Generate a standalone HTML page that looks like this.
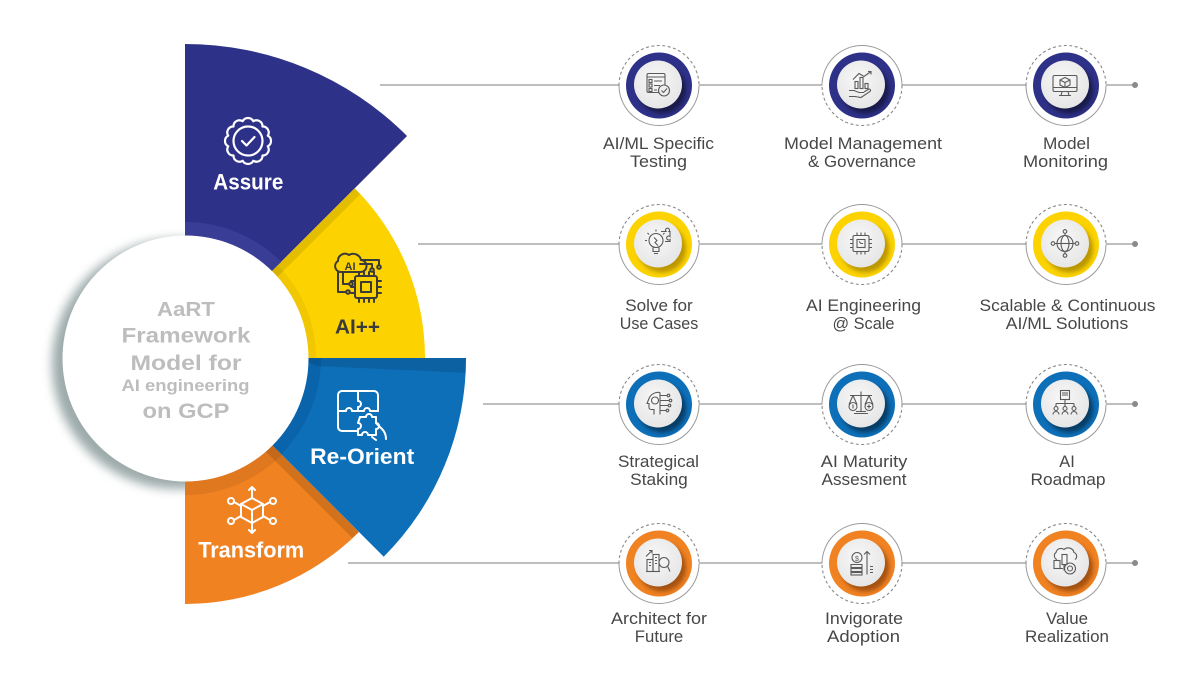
<!DOCTYPE html>
<html><head><meta charset="utf-8"><style>
html,body{margin:0;padding:0;background:#fff;}
svg{display:block;}
text{font-family:"Liberation Sans",Arial,sans-serif;}
</style></head><body>
<svg width="1200" height="690" viewBox="0 0 1200 690" xmlns="http://www.w3.org/2000/svg">
<defs>
  <filter id="blur5" x="-30%" y="-30%" width="160%" height="160%"><feGaussianBlur stdDeviation="5"/></filter>
  <filter id="blur2" x="-40%" y="-40%" width="180%" height="180%"><feGaussianBlur stdDeviation="2.2"/></filter>
  <radialGradient id="ig" cx="45%" cy="40%" r="60%"><stop offset="0" stop-color="#f8f8f8"/><stop offset="1" stop-color="#e6e6e6"/></radialGradient>
  <clipPath id="cY"><path d="M185,358 L354.71,188.29 A240,240 0 0 1 425,358 Z"/></clipPath>
  <clipPath id="cB"><path d="M185,358 L466,358 A281,281 0 0 1 383.7,556.7 Z"/></clipPath>
  <clipPath id="cO"><path d="M185,358 L358.95,531.95 A246,246 0 0 1 185,604 Z"/></clipPath>
</defs>

<!-- circle shadow -->
<circle cx="177" cy="364" r="125" fill="#8c9c9c" opacity="0.85" filter="url(#blur5)"/>

<!-- sectors -->
<path d="M185,358 L185,44 A314,314 0 0 1 407.03,135.97 Z" fill="#2e3188"/>
<path d="M185,358 L354.71,188.29 A240,240 0 0 1 425,358 Z" fill="#fcd300"/>
<path d="M185,358 L358.95,531.95 A246,246 0 0 1 185,604 Z" fill="#f08222"/>
<path d="M185,358 L466,358 A281,281 0 0 1 383.7,556.7 Z" fill="#0d6fb8"/>

<!-- inner bands -->
<path d="M185,358 L185,222 A136,136 0 0 1 281.17,261.83 Z" fill="#3a3d95"/>
<path d="M185,358 L277.63,265.37 A131,131 0 0 1 316,358 Z" fill="#f0c700"/>
<path d="M185,358 L321,358 A136,136 0 0 1 281.17,454.17 Z" fill="#0a64ac"/>
<path d="M185,358 L281.87,454.87 A137,137 0 0 1 185,495 Z" fill="#e07820"/>

<!-- boundary shadow strips -->
<g clip-path="url(#cY)"><polygon points="269.85,273.15 358.24,184.76 363.9,190.4 275.5,278.8" fill="#000" opacity="0.1"/></g>
<g clip-path="url(#cB)"><polygon points="300,358 470,358 470,373 316,366" fill="#000" opacity="0.12"/></g>
<g clip-path="url(#cO)"><polygon points="269.85,442.85 361.78,534.78 355.4,541.1 263.5,449.2" fill="#000" opacity="0.12"/></g>

<!-- white center circle -->
<circle cx="185.5" cy="358.5" r="123" fill="#fff"/>
<g fill="#bdbdbd" font-weight="bold" text-anchor="middle">
  <text x="186" y="316" font-size="20" textLength="58" lengthAdjust="spacingAndGlyphs">AaRT</text>
  <text x="186" y="342.5" font-size="21" textLength="129" lengthAdjust="spacingAndGlyphs">Framework</text>
  <text x="186" y="370" font-size="21" textLength="111" lengthAdjust="spacingAndGlyphs">Model for</text>
  <text x="185.5" y="391" font-size="17" textLength="128" lengthAdjust="spacingAndGlyphs">AI engineering</text>
  <text x="186" y="418" font-size="21" textLength="87" lengthAdjust="spacingAndGlyphs">on GCP</text>
</g>

<!-- Assure icon + label -->
<g transform="translate(248,141)" fill="none" stroke="#fff" stroke-width="2.2" stroke-linejoin="round" stroke-linecap="round">
  <path d="M19.8,5.31 A6,6 0 0 1 14.5,14.5 A6,6 0 0 1 5.31,19.8 A6,6 0 0 1 -5.31,19.8 A6,6 0 0 1 -14.5,14.5 A6,6 0 0 1 -19.8,5.31 A6,6 0 0 1 -19.8,-5.31 A6,6 0 0 1 -14.5,-14.5 A6,6 0 0 1 -5.31,-19.8 A6,6 0 0 1 5.31,-19.8 A6,6 0 0 1 14.5,-14.5 A6,6 0 0 1 19.8,-5.31 A6,6 0 0 1 19.8,5.31 Z"/>
  <circle r="14.5"/>
  <path d="M-6,0 L-1.5,4.5 L6.5,-4"/>
</g>
<text x="248.3" y="189.3" font-size="22" font-weight="bold" fill="#fff" text-anchor="middle" textLength="70" lengthAdjust="spacingAndGlyphs">Assure</text>

<!-- AI++ icon + label -->
<g transform="translate(358,278)" fill="none" stroke="#3a3a3a" stroke-width="2" stroke-linejoin="round" stroke-linecap="round">
  <path d="M-18,-6 A6,6 0 0 1 -20,-17 A7,7 0 0 1 -9,-23 A8,8 0 0 1 3,-18 A6,6 0 0 1 2,-6 Z"/>
  <rect x="-3" y="-2" width="22" height="22" rx="2"/>
  <rect x="3" y="4" width="10" height="10"/>
  <path d="M1,-2 v-4 M6,-2 v-4 M11,-2 v-4 M16,-2 v-4 M1,20 v4 M6,20 v4 M11,20 v4 M16,20 v4 M-3,3 h-4 M-3,9 h-4 M-3,15 h-4 M19,3 h4 M19,9 h4 M19,15 h4"/>
  <path d="M-20,-6 V14 H-12 M-15,-6 V6 H-9 M2,-14 H14 V-10 M3,-18 H21 V-13"/>
  <circle cx="-10" cy="14" r="1.8"/><circle cx="-7" cy="6" r="1.8"/><circle cx="14" cy="-8" r="1.8"/><circle cx="21" cy="-11" r="1.8"/>
</g>
<text x="350" y="-8" font-size="11" font-weight="bold" fill="#3a3a3a" text-anchor="middle" transform="translate(0,278)">AI</text>
<text x="357.5" y="333.3" font-size="20" font-weight="bold" fill="#3a3a3a" text-anchor="middle" textLength="45" lengthAdjust="spacingAndGlyphs">AI++</text>

<!-- Re-Orient icon + label -->
<g transform="translate(362,415)" fill="none" stroke="#fff" stroke-width="2" stroke-linejoin="round" stroke-linecap="round">
  <path d="M-4,16 H-20 A4,4 0 0 1 -24,12 V-20 A4,4 0 0 1 -20,-24 H12 A4,4 0 0 1 16,-20 V-4"/>
  <path d="M-4,-24 V-14 A3,3 0 1 1 -4,-8 V-4 H-10 A3,3 0 1 0 -16,-4 H-24"/>
  <path d="M-4,-4 H2 A3,3 0 1 1 8,-4 H16"/>
  <path d="M-2,2 H4 A3,3 0 1 1 10,2 H14 V8 A3,3 0 1 1 14,14 V20 H6 A3,3 0 1 0 0,20 H-4 V14 A3,3 0 1 0 -4,8 Z"/>
  <path d="M14,8 L20,14 Q24,18 24,24 M10,22 L14,25"/>
</g>
<text x="362.2" y="464" font-size="22" font-weight="bold" fill="#fff" text-anchor="middle" textLength="104" lengthAdjust="spacingAndGlyphs">Re-Orient</text>

<!-- Transform icon + label -->
<g transform="translate(252,510)" fill="none" stroke="#fff" stroke-width="2" stroke-linejoin="round" stroke-linecap="round">
  <path d="M0,-12 L11,-6 L0,0 L-11,-6 Z M-11,-6 V7 L0,13 L11,7 V-6 M0,0 V13"/>
  <path d="M0,-12 V-23 M-3,-20 L0,-23 L3,-20 M0,13 V23 M-3,20 L0,23 L3,20"/>
  <path d="M-11,-4 L-18,-8 M11,-4 L18,-8 M-11,6 L-18,10 M11,6 L18,10"/>
  <circle cx="-21" cy="-9" r="3"/><circle cx="21" cy="-9" r="3"/><circle cx="-21" cy="11" r="3"/><circle cx="21" cy="11" r="3"/>
</g>
<text x="251.2" y="557.3" font-size="22" font-weight="bold" fill="#fff" text-anchor="middle" textLength="106" lengthAdjust="spacingAndGlyphs">Transform</text>

<!-- connector lines -->
<g stroke="#a8a8a8" stroke-width="1.5">
  <line x1="380" y1="85" x2="1135" y2="85"/>
  <line x1="418" y1="244" x2="1135" y2="244"/>
  <line x1="483" y1="404" x2="1135" y2="404"/>
  <line x1="348" y1="563" x2="1135" y2="563"/>
</g>
<g fill="#8a8a8a">
  <circle cx="1135" cy="85" r="3"/><circle cx="1135" cy="244" r="3"/><circle cx="1135" cy="404" r="3"/><circle cx="1135" cy="563" r="3"/>
</g>

<!-- node template: columns 659, 862, 1066 -->
<!-- Row 1 navy -->
<g transform="translate(659,85.5)">
  <circle r="40" fill="#fff"/>
  <path d="M-40,0 A40,40 0 0 1 40,0" fill="none" stroke="#8a8a8a" stroke-width="1.1" stroke-dasharray="3 2.5"/>
  <path d="M40,0 A40,40 0 0 1 -40,0" fill="none" stroke="#9a9a9a" stroke-width="1"/>
  <circle r="33" fill="#2e3188"/>
  <circle cx="3" cy="4" r="24" fill="#000" opacity="0.45" filter="url(#blur2)"/>
  <circle cx="-1" cy="-1" r="24" fill="url(#ig)"/>
  <g transform="translate(-1,-1)" fill="none" stroke="#5a5a5a" stroke-width="1.1">
    <rect x="-11" y="-11" width="18" height="19" rx="1.5"/><line x1="-11" y1="-7.5" x2="7" y2="-7.5"/>
    <rect x="-9" y="-5" width="3" height="3"/><rect x="-9" y="-0.5" width="3" height="3"/><rect x="-9" y="4" width="3" height="3"/>
    <path d="M-4,-3.5 h8 M-4,1 h6 M-4,5.5 h3"/>
    <circle cx="6" cy="6" r="5.5" fill="#eee"/><path d="M3.5,6 l2,2 l3.5,-4"/>
  </g>
</g>
<g transform="translate(862,85.5)">
  <circle r="40" fill="#fff"/>
  <path d="M-40,0 A40,40 0 0 1 40,0" fill="none" stroke="#9a9a9a" stroke-width="1"/>
  <path d="M40,0 A40,40 0 0 1 -40,0" fill="none" stroke="#8a8a8a" stroke-width="1.1" stroke-dasharray="3 2.5"/>
  <circle r="33" fill="#2e3188"/>
  <circle cx="3" cy="4" r="24" fill="#000" opacity="0.45" filter="url(#blur2)"/>
  <circle cx="-1" cy="-1" r="24" fill="url(#ig)"/>
  <g transform="translate(-1,-1)" fill="none" stroke="#5a5a5a" stroke-width="1.1">
    <rect x="-6" y="-3" width="3" height="7"/><rect x="-1" y="-7" width="3" height="11"/><rect x="4" y="-1" width="3" height="5"/>
    <path d="M-8,-5 L-2,-11 L3,-8 L10,-13 M7,-13 h3 v3"/>
    <path d="M-12,6 h5 l5,2 h5 M-12,12 h6 l6,1 l9,-6 q1.5,-2 -1,-2.5 l-5,3"/>
  </g>
</g>
<g transform="translate(1066,85.5)">
  <circle r="40" fill="#fff"/>
  <path d="M-40,0 A40,40 0 0 1 40,0" fill="none" stroke="#8a8a8a" stroke-width="1.1" stroke-dasharray="3 2.5"/>
  <path d="M40,0 A40,40 0 0 1 -40,0" fill="none" stroke="#9a9a9a" stroke-width="1"/>
  <circle r="33" fill="#2e3188"/>
  <circle cx="3" cy="4" r="24" fill="#000" opacity="0.45" filter="url(#blur2)"/>
  <circle cx="-1" cy="-1" r="24" fill="url(#ig)"/>
  <g transform="translate(-1,-1)" fill="none" stroke="#5a5a5a" stroke-width="1.1">
    <rect x="-12" y="-9" width="24" height="16" rx="1.5"/><line x1="-12" y1="3" x2="12" y2="3"/>
    <path d="M-3,7 l-1,4 h8 l-1,-4 M-6,11 h12"/>
    <path d="M0,-7 l5,2.5 v5 l-5,2.5 l-5,-2.5 v-5 z M-5,-4.5 l5,2.5 l5,-2.5 M0,-2 v5"/>
  </g>
</g>

<!-- Row 2 yellow -->
<g transform="translate(659,244.5)">
  <circle r="40" fill="#fff"/>
  <path d="M-40,0 A40,40 0 0 1 40,0" fill="none" stroke="#8a8a8a" stroke-width="1.1" stroke-dasharray="3 2.5"/>
  <path d="M40,0 A40,40 0 0 1 -40,0" fill="none" stroke="#9a9a9a" stroke-width="1"/>
  <circle r="33" fill="#fcd300"/>
  <circle cx="3" cy="4" r="24" fill="#7a5a00" opacity="0.5" filter="url(#blur2)"/>
  <circle cx="-1" cy="-1" r="24" fill="url(#ig)"/>
  <g transform="translate(-1,-1)" fill="none" stroke="#5a5a5a" stroke-width="1.1">
    <circle cx="-2" cy="-3" r="7"/><path d="M-5,4 v4 h6 v-4 M-4,10 h4 M-4,-6 l3,3 l-2,2 l3,3"/>
    <path d="M-2,-12 v-2 M-9,-9 l-1.5,-1.5 M-11,-3 h-2 M5,-9 l1.5,-1.5"/>
    <path d="M3,-12 h5 a2,2 0 1 1 3,0 h1 v5 a2,2 0 1 0 0,3 v2 h-5"/>
  </g>
</g>
<g transform="translate(862,244.5)">
  <circle r="40" fill="#fff"/>
  <path d="M-40,0 A40,40 0 0 1 40,0" fill="none" stroke="#9a9a9a" stroke-width="1"/>
  <path d="M40,0 A40,40 0 0 1 -40,0" fill="none" stroke="#8a8a8a" stroke-width="1.1" stroke-dasharray="3 2.5"/>
  <circle r="33" fill="#fcd300"/>
  <circle cx="3" cy="4" r="24" fill="#7a5a00" opacity="0.5" filter="url(#blur2)"/>
  <circle cx="-1" cy="-1" r="24" fill="url(#ig)"/>
  <g transform="translate(-1,-1)" fill="none" stroke="#5a5a5a" stroke-width="1.1">
    <rect x="-8" y="-8" width="16" height="16" rx="1.5"/><rect x="-4" y="-4" width="8" height="8"/>
    <path d="M-4,-8 v-3 M0,-8 v-3 M4,-8 v-3 M-4,8 v3 M0,8 v3 M4,8 v3 M-8,-4 h-3 M-8,0 h-3 M-8,4 h-3 M8,-4 h3 M8,0 h3 M8,4 h3"/>
    <path d="M-2,-2 l2,2 h2"/>
  </g>
</g>
<g transform="translate(1066,244.5)">
  <circle r="40" fill="#fff"/>
  <path d="M-40,0 A40,40 0 0 1 40,0" fill="none" stroke="#8a8a8a" stroke-width="1.1" stroke-dasharray="3 2.5"/>
  <path d="M40,0 A40,40 0 0 1 -40,0" fill="none" stroke="#9a9a9a" stroke-width="1"/>
  <circle r="33" fill="#fcd300"/>
  <circle cx="3" cy="4" r="24" fill="#7a5a00" opacity="0.5" filter="url(#blur2)"/>
  <circle cx="-1" cy="-1" r="24" fill="url(#ig)"/>
  <g transform="translate(-1,-1)" fill="none" stroke="#5a5a5a" stroke-width="1.1">
    <circle r="8"/><ellipse rx="4" ry="8"/><line x1="-8" y1="0" x2="8" y2="0"/>
    <path d="M0,-8 v-2 M0,8 v2 M-8,0 h-2 M8,0 h2"/>
    <circle cx="0" cy="-12" r="1.8"/><circle cx="0" cy="12" r="1.8"/><circle cx="-12" cy="0" r="1.8"/><circle cx="12" cy="0" r="1.8"/>
  </g>
</g>

<!-- Row 3 blue -->
<g transform="translate(659,404.5)">
  <circle r="40" fill="#fff"/>
  <path d="M-40,0 A40,40 0 0 1 40,0" fill="none" stroke="#8a8a8a" stroke-width="1.1" stroke-dasharray="3 2.5"/>
  <path d="M40,0 A40,40 0 0 1 -40,0" fill="none" stroke="#9a9a9a" stroke-width="1"/>
  <circle r="33" fill="#0d6fb8"/>
  <circle cx="3" cy="4" r="24" fill="#000" opacity="0.45" filter="url(#blur2)"/>
  <circle cx="-1" cy="-1" r="24" fill="url(#ig)"/>
  <g transform="translate(-1,-1)" fill="none" stroke="#5a5a5a" stroke-width="1.1">
    <path d="M2,-11 A10,10 0 0 0 -9,-5 L-11,0 H-9 V4 A2,2 0 0 0 -7,6 H-4 V11"/>
    <circle cx="-3" cy="-3" r="3.5"/>
    <path d="M2,-11 V11 M2,-8 H9 M2,-3 H11 M2,2 H10 M2,7 H8"/>
    <circle cx="10.5" cy="-8" r="1.3"/><circle cx="12.5" cy="-3" r="1.3"/><circle cx="11.5" cy="2" r="1.3"/><circle cx="9.5" cy="7" r="1.3"/>
  </g>
</g>
<g transform="translate(862,404.5)">
  <circle r="40" fill="#fff"/>
  <path d="M-40,0 A40,40 0 0 1 40,0" fill="none" stroke="#9a9a9a" stroke-width="1"/>
  <path d="M40,0 A40,40 0 0 1 -40,0" fill="none" stroke="#8a8a8a" stroke-width="1.1" stroke-dasharray="3 2.5"/>
  <circle r="33" fill="#0d6fb8"/>
  <circle cx="3" cy="4" r="24" fill="#000" opacity="0.45" filter="url(#blur2)"/>
  <circle cx="-1" cy="-1" r="24" fill="url(#ig)"/>
  <g transform="translate(-1,-1)" fill="none" stroke="#5a5a5a" stroke-width="1.1">
    <path d="M0,-12 V8 M-11,-8 H11 M-7,10 H7 M-5,8 H5"/>
    <path d="M-8,-8 L-12,1 M-8,-8 L-4,1 M8,-8 L4,1 M8,-8 L12,1"/>
    <circle cx="-8" cy="3" r="4"/><circle cx="8" cy="3" r="4"/>
    <path d="M-8,1 v4 M6,3 h4 M8,1 v4"/>
  </g>
</g>
<g transform="translate(1066,404.5)">
  <circle r="40" fill="#fff"/>
  <path d="M-40,0 A40,40 0 0 1 40,0" fill="none" stroke="#8a8a8a" stroke-width="1.1" stroke-dasharray="3 2.5"/>
  <path d="M40,0 A40,40 0 0 1 -40,0" fill="none" stroke="#9a9a9a" stroke-width="1"/>
  <circle r="33" fill="#0d6fb8"/>
  <circle cx="3" cy="4" r="24" fill="#000" opacity="0.45" filter="url(#blur2)"/>
  <circle cx="-1" cy="-1" r="24" fill="url(#ig)"/>
  <g transform="translate(-1,-1)" fill="none" stroke="#5a5a5a" stroke-width="1.1">
    <rect x="-4.5" y="-13" width="9" height="9"/><path d="M-3,-8.5 h6 M-3,-10.5 h6"/>
    <path d="M0,-4 V0 M-9,0 H9 M-9,0 V3 M0,0 V3 M9,0 V3"/>
    <circle cx="-9" cy="5" r="2"/><circle cx="0" cy="5" r="2"/><circle cx="9" cy="5" r="2"/>
    <path d="M-12,11 a3,3 0 0 1 6,0 M-3,11 a3,3 0 0 1 6,0 M6,11 a3,3 0 0 1 6,0"/>
  </g>
</g>

<!-- Row 4 orange -->
<g transform="translate(659,563.5)">
  <circle r="40" fill="#fff"/>
  <path d="M-40,0 A40,40 0 0 1 40,0" fill="none" stroke="#8a8a8a" stroke-width="1.1" stroke-dasharray="3 2.5"/>
  <path d="M40,0 A40,40 0 0 1 -40,0" fill="none" stroke="#9a9a9a" stroke-width="1"/>
  <circle r="33" fill="#f08222"/>
  <circle cx="3" cy="4" r="24" fill="#5a2000" opacity="0.5" filter="url(#blur2)"/>
  <circle cx="-1" cy="-1" r="24" fill="url(#ig)"/>
  <g transform="translate(-1,-1)" fill="none" stroke="#5a5a5a" stroke-width="1.1">
    <rect x="-11" y="-3" width="6" height="12"/><rect x="-5" y="-8" width="6" height="17"/>
    <path d="M-9,0 h2 M-9,3 h2 M-3,-5 h2 M-3,-2 h2 M-3,1 h2 M-12,9 h14"/>
    <path d="M-12,-6 L-6,-12 M-9,-12 h3 v3"/>
    <circle cx="6" cy="0" r="5"/><path d="M9.5,3.5 L12,9"/>
  </g>
</g>
<g transform="translate(862,563.5)">
  <circle r="40" fill="#fff"/>
  <path d="M-40,0 A40,40 0 0 1 40,0" fill="none" stroke="#9a9a9a" stroke-width="1"/>
  <path d="M40,0 A40,40 0 0 1 -40,0" fill="none" stroke="#8a8a8a" stroke-width="1.1" stroke-dasharray="3 2.5"/>
  <circle r="33" fill="#f08222"/>
  <circle cx="3" cy="4" r="24" fill="#5a2000" opacity="0.5" filter="url(#blur2)"/>
  <circle cx="-1" cy="-1" r="24" fill="url(#ig)"/>
  <g transform="translate(-1,-1)" fill="none" stroke="#5a5a5a" stroke-width="1.1">
    <circle cx="-4" cy="-5" r="5"/>
    <rect x="-10" y="2" width="11" height="3"/><rect x="-10" y="6" width="11" height="3"/><rect x="-10" y="10" width="11" height="2.5"/>
    <path d="M6,12 V-11 M3,-8 L6,-11 L9,-8 M9,4 h3 M9,7 h3 M9,10 h3"/>
  </g>
  <text x="-5" y="-2.5" font-size="7" fill="#5a5a5a" text-anchor="middle">$</text>
</g>
<g transform="translate(1066,563.5)">
  <circle r="40" fill="#fff"/>
  <path d="M-40,0 A40,40 0 0 1 40,0" fill="none" stroke="#8a8a8a" stroke-width="1.1" stroke-dasharray="3 2.5"/>
  <path d="M40,0 A40,40 0 0 1 -40,0" fill="none" stroke="#9a9a9a" stroke-width="1"/>
  <circle r="33" fill="#f08222"/>
  <circle cx="3" cy="4" r="24" fill="#5a2000" opacity="0.5" filter="url(#blur2)"/>
  <circle cx="-1" cy="-1" r="24" fill="url(#ig)"/>
  <g transform="translate(-1,-1)" fill="none" stroke="#5a5a5a" stroke-width="1.1">
    <path d="M-8,-3 A4,4 0 0 1 -9,-10 A5,5 0 0 1 -1,-13 A6,6 0 0 1 9,-10 A4,4 0 0 1 10,-3"/>
    <rect x="-11" y="-2" width="6" height="8"/><rect x="-3" y="-8" width="5" height="10"/>
    <circle cx="5" cy="6" r="5.5"/><circle cx="5" cy="6" r="2.5"/>
    <path d="M-1,2 v6 M-5,6 h3"/>
  </g>
</g>

<!-- right labels -->
<g font-size="17" fill="#474747" text-anchor="middle">
  <text x="658.5" y="149" textLength="111" lengthAdjust="spacingAndGlyphs">AI/ML Specific</text>
  <text x="658.5" y="167" textLength="57" lengthAdjust="spacingAndGlyphs">Testing</text>
  <text x="863" y="149" textLength="158" lengthAdjust="spacingAndGlyphs">Model Management</text>
  <text x="862" y="167" textLength="108" lengthAdjust="spacingAndGlyphs">&amp; Governance</text>
  <text x="1066.5" y="149" textLength="47" lengthAdjust="spacingAndGlyphs">Model</text>
  <text x="1065.5" y="167" textLength="85" lengthAdjust="spacingAndGlyphs">Monitoring</text>

  <text x="659" y="311" textLength="67.5" lengthAdjust="spacingAndGlyphs">Solve for</text>
  <text x="659" y="329" textLength="78.5" lengthAdjust="spacingAndGlyphs">Use Cases</text>
  <text x="863.5" y="311" textLength="115" lengthAdjust="spacingAndGlyphs">AI Engineering</text>
  <text x="863.5" y="329" textLength="62" lengthAdjust="spacingAndGlyphs">@ Scale</text>
  <text x="1067.5" y="311" textLength="176" lengthAdjust="spacingAndGlyphs">Scalable &amp; Continuous</text>
  <text x="1067" y="329" textLength="122.5" lengthAdjust="spacingAndGlyphs">AI/ML Solutions</text>

  <text x="658.5" y="467" textLength="81" lengthAdjust="spacingAndGlyphs">Strategical</text>
  <text x="659" y="485" textLength="57.6" lengthAdjust="spacingAndGlyphs">Staking</text>
  <text x="864" y="467" textLength="86.5" lengthAdjust="spacingAndGlyphs">AI Maturity</text>
  <text x="864" y="485" textLength="85" lengthAdjust="spacingAndGlyphs">Assesment</text>
  <text x="1067" y="467" textLength="15.5" lengthAdjust="spacingAndGlyphs">AI</text>
  <text x="1068" y="485" textLength="75" lengthAdjust="spacingAndGlyphs">Roadmap</text>

  <text x="659" y="624" textLength="96" lengthAdjust="spacingAndGlyphs">Architect for</text>
  <text x="659" y="642" textLength="48.5" lengthAdjust="spacingAndGlyphs">Future</text>
  <text x="864" y="624" textLength="78" lengthAdjust="spacingAndGlyphs">Invigorate</text>
  <text x="863.5" y="642" textLength="73" lengthAdjust="spacingAndGlyphs">Adoption</text>
  <text x="1067" y="624" textLength="42" lengthAdjust="spacingAndGlyphs">Value</text>
  <text x="1067" y="642" textLength="84" lengthAdjust="spacingAndGlyphs">Realization</text>
</g>
</svg>
</body></html>
